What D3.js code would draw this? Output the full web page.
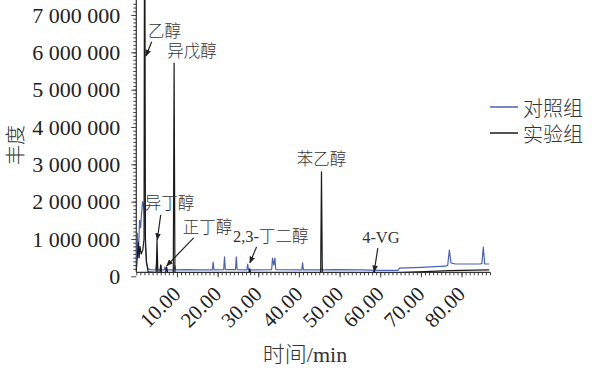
<!DOCTYPE html>
<html><head><meta charset="utf-8">
<script src="https://cdn.jsdelivr.net/npm/d3@7"></script>
<style>body{margin:0;background:#fff;overflow:hidden}</style>
</head><body><svg id="c" width="592" height="371"></svg>
<script>
// ---- data ----
const controlTime  = [0.0,0.25,0.45,0.6,0.8,1.05,1.3,1.55,1.8,2.0,2.25,2.5,2.9,3.4,4.8,5.05,5.3,5.9,6.05,6.25,6.9,7.05,7.25,9.3,9.5,9.7,12,15,18.7,18.9,19.1,21.5,21.7,21.9,24.4,24.6,24.8,27.2,27.4,27.6,33.3,33.5,33.8,34.1,34.3,40.7,40.9,41.1,45.5,45.7,45.9,49,55,60,64.4,64.7,70,76,76.6,77.0,77.4,78.5,84.5,85.0,85.35,85.7,86.8];
const controlValue = [0.3,1.16,0.5,0.85,1.5,1.3,1.7,2.0,1.9,1.6,0.8,0.35,0.2,0.18,0.17,0.4,0.17,0.17,0.3,0.17,0.17,0.25,0.17,0.17,0.28,0.17,0.18,0.17,0.17,0.38,0.17,0.18,0.52,0.18,0.18,0.52,0.18,0.17,0.33,0.17,0.18,0.49,0.3,0.49,0.18,0.17,0.36,0.17,0.17,0.2,0.17,0.18,0.17,0.16,0.16,0.22,0.24,0.27,0.3,0.7,0.36,0.33,0.33,0.34,0.78,0.33,0.33].map(v=>v*1e6);
const expTime  = [0.0,0.3,0.5,0.7,0.9,1.2,1.6,1.9,2.05,2.25,2.5,2.9,4.9,5.1,5.3,5.8,6.0,6.2,7.2,7.45,7.7,9.1,9.3,9.5,15,27.7,27.9,28.1,45.35,45.55,45.75,58.3,58.5,58.7,65,77,86.8];
const expValue = [0.15,0.6,0.9,0.5,0.8,0.6,0.7,1.0,12,1.0,0.4,0.12,0.1,0.98,0.1,0.1,0.3,0.1,0.1,0.25,0.1,0.1,5.71,0.1,0.1,0.1,0.2,0.1,0.1,2.8,0.1,0.1,0.14,0.1,0.1,0.15,0.17].map(v=>v*1e6);
const seriesNames = ["对照组","实验组"];
const xTickValues = [10,20,30,40,50,60,70,80];
const yTickValues = [0,1e6,2e6,3e6,4e6,5e6,6e6,7e6];
const annLabels = ["乙醇","异戊醇","异丁醇","正丁醇","2,3-丁二醇","苯乙醇","4-VG"];
const annTime   = [2.38,9.3,5.15,7.47,27.94,45.55,58.5];
const annValue  = [5.9e6,5.71e6,0.98e6,0.28e6,0.36e6,2.8e6,0.12e6];

// ---- layout (pixel offsets of label / arrow start relative to target) ----
const annLayout = [
  {tx:2,ty:-19,anchor:"start",ax:5.7,ay:-14.3},
  {tx:18,ty:-6,anchor:"middle",ax:null},
  {tx:-12.5,ty:-31,anchor:"start",ax:3.5,ay:-25},
  {tx:16,ty:-33,anchor:"start",ax:27,ay:-28},
  {tx:-17,ty:-21,anchor:"start",ax:6.7,ay:-16},
  {tx:0,ty:-6.7,anchor:"middle",ax:null},
  {tx:-12,ty:-29,anchor:"start",ax:3.7,ay:-23.7}
];
const colors = ["#4a62b4","#1a1a1a"];
const serif = "'Liberation Serif','Times New Roman',serif";
const mixed = "'Liberation Serif','Noto Sans CJK SC',serif";
const cjk = "'Noto Sans CJK SC','Liberation Serif',sans-serif";

const svg = d3.select("#c");
const x0 = 136.3, x1 = 490, axisY = 272.3;
const x = d3.scaleLinear().domain([0,87]).range([x0,x1]);
const y = d3.scaleLinear().domain([0,7e6]).range([276.3,15]);

// clip
svg.append("defs").append("clipPath").attr("id","pc").append("rect")
  .attr("x",x0).attr("y",0).attr("width",x1-x0).attr("height",axisY);
svg.select("defs").append("marker").attr("id","ah").attr("viewBox","0 0 10 10")
  .attr("refX",9).attr("refY",5).attr("markerWidth",7).attr("markerHeight",7)
  .attr("markerUnits","userSpaceOnUse").attr("orient","auto")
  .append("path").attr("d","M0,1 L10,5 L0,9 z").attr("fill","#222");

// y axis
const gy = svg.append("g").attr("transform",`translate(${x0},0)`);
gy.append("g").call(d3.axisLeft(y).tickValues(d3.range(0,7.4e6,1e5).filter(v=>y(v)<=axisY && y(v)>=0)).tickSize(3).tickFormat(""))
  .call(g=>g.select(".domain").remove());
gy.append("g").call(d3.axisLeft(y).tickValues(yTickValues).tickSize(5).tickPadding(11)
  .tickFormat(v=>d3.format(",")(v).replace(/,/g," ")))
  .call(g=>g.select(".domain").remove())
  .call(g=>g.selectAll("text").attr("font-family",serif).attr("font-size",22).attr("fill","#222"));
gy.selectAll("line").attr("stroke","#444");
gy.append("line").attr("x1",0).attr("x2",0).attr("y1",0).attr("y2",axisY).attr("stroke","#333").attr("stroke-width",1.2);

// x axis
const gx = svg.append("g").attr("transform",`translate(0,${axisY})`);
gx.append("g").call(d3.axisBottom(x).tickValues(d3.range(0,88,1)).tickSize(3).tickFormat(""))
  .call(g=>g.select(".domain").remove());
gx.append("g").call(d3.axisBottom(x).tickValues(xTickValues).tickSize(5).tickFormat(""))
  .call(g=>g.select(".domain").remove());
gx.selectAll("line").attr("stroke","#444");
gx.append("line").attr("x1",x0).attr("x2",x1).attr("y1",0).attr("y2",0).attr("stroke","#333").attr("stroke-width",1.2);
gx.selectAll("text.xl").data(xTickValues).enter().append("text").attr("class","xl")
  .attr("transform",d=>`translate(${x(d)+5},23) rotate(-45)`)
  .attr("text-anchor","end").attr("font-family",serif).attr("font-size",21).attr("fill","#222")
  .text(d=>d3.format(".2f")(d));

// lines
const plot = svg.append("g").attr("clip-path","url(#pc)");
const line = d3.line().x(d=>x(d[0])).y(d=>y(d[1]));
plot.append("path").datum(d3.zip(controlTime,controlValue)).attr("d",line)
  .attr("fill","none").attr("stroke",colors[0]).attr("stroke-width",1.2).attr("stroke-linejoin","round");
plot.append("path").datum(d3.zip(expTime,expValue)).attr("d",line)
  .attr("fill","none").attr("stroke",colors[1]).attr("stroke-width",1.2).attr("stroke-linejoin","round");

// annotations
annLabels.forEach((lab,i)=>{
  const px = x(annTime[i]), py = y(annValue[i]), L = annLayout[i];
  svg.append("text").attr("x",px+L.tx).attr("y",py+L.ty).attr("text-anchor",L.anchor)
    .attr("font-family",mixed).attr("font-size",16.5).attr("font-weight",300).attr("fill","#333").text(lab);
  if (L.ax!==null){
    svg.append("line").attr("x1",px+L.ax).attr("y1",py+L.ay).attr("x2",px).attr("y2",py)
      .attr("stroke","#222").attr("stroke-width",1.2).attr("marker-end","url(#ah)");
  }
});

// axis titles
svg.append("text").attr("x",305).attr("y",362).attr("text-anchor","middle")
  .attr("font-family",mixed).attr("font-size",22).attr("font-weight",300).attr("fill","#333").text("时间/min");
svg.append("text").attr("transform","translate(14,145) rotate(-90)").attr("text-anchor","middle")
  .attr("dominant-baseline","central").attr("font-family",cjk).attr("font-size",20).attr("font-weight",300).attr("fill","#333").text("丰度");

// legend
const lg = svg.append("g");
seriesNames.forEach((n,i)=>{
  const ly = 107 + i*26;
  lg.append("line").attr("x1",490).attr("x2",518).attr("y1",ly).attr("y2",ly).attr("stroke",colors[i]).attr("stroke-width",1.5);
  lg.append("text").attr("x",523).attr("y",ly).attr("dominant-baseline","central")
    .attr("font-family",cjk).attr("font-size",20).attr("font-weight",300).attr("fill","#333").text(n);
});
</script></body></html>
